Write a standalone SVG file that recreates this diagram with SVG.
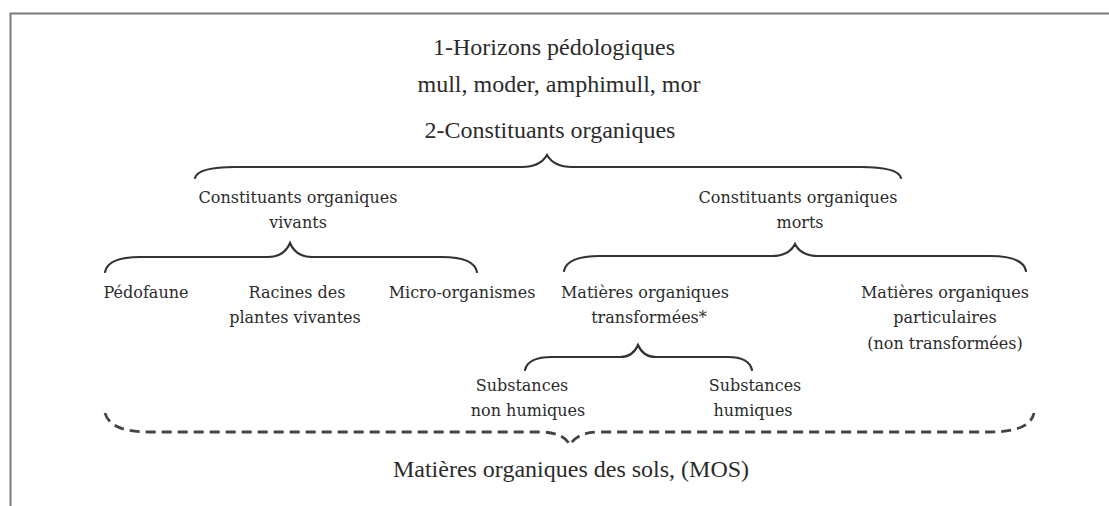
<svg xmlns="http://www.w3.org/2000/svg" width="1109" height="506" viewBox="0 0 1109 506">
<style>
.t1{font-family:"Liberation Serif","Times New Roman",serif;font-size:24px;fill:#2b2b2b;text-anchor:middle}
.t2{font-family:"DejaVu Serif",serif;font-size:16px;fill:#2b2b2b;text-anchor:middle}
.br{fill:none;stroke:#333;stroke-width:2.2;stroke-linecap:round}
.dash{fill:none;stroke:#444;stroke-width:2.8;stroke-dasharray:10 6}
</style>
<rect width="1109" height="506" fill="#fff"/>
<path d="M10.5 506 L10.5 13.5 L1109 13.5" fill="none" stroke="#7a7a7a" stroke-width="2"/>
<g id="connectors">
<path class="br" d="M195 178 Q198 167 235 167 L522 167 Q540 167 547 155 Q554 167 572 167 L861 167 Q898 167 901 178"/>
<path class="br" d="M105 272 Q108 257 140 257 L268 257 Q284 257 290 243 Q296 257 312 257 L442 257 Q474 257 477 272"/>
<path class="br" d="M564 271 Q567 256 600 256 L772 256 Q789 256 795 244 Q801 256 818 256 L990 256 Q1023 256 1026 271"/>
<path class="br" d="M525 370 Q528 357 552 357 L620 357 Q633 357 638 345 Q643 357 656 357 L728 357 Q749 357 752 370"/>
<path class="dash" d="M105 413 Q110 432 150 432 L540 432 Q563 432 570 445 Q577 432 600 432 L990 432 Q1030 432 1034 413"/>
</g>
<g id="horizons"><text class="t1" x="554" y="55">1-Horizons pédologiques</text><text class="t1" x="559" y="92">mull, moder, amphimull, mor</text></g>
<g id="constituants"><text class="t1" x="550" y="138">2-Constituants organiques</text></g>
<g id="vivants"><text class="t2" x="298" y="203">Constituants organiques</text><text class="t2" x="298" y="228">vivants</text></g>
<g id="morts"><text class="t2" x="798" y="203">Constituants organiques</text><text class="t2" x="800" y="228">morts</text></g>
<g id="pedofaune"><text class="t2" x="146" y="298">Pédofaune</text></g>
<g id="racines"><text class="t2" x="297" y="298">Racines des</text><text class="t2" x="295" y="323">plantes vivantes</text></g>
<g id="micro"><text class="t2" x="462" y="298">Micro-organismes</text></g>
<g id="transformees"><text class="t2" x="645" y="298">Matières organiques</text><text class="t2" x="649" y="323">transformées*</text></g>
<g id="particulaires"><text class="t2" x="945" y="298">Matières organiques</text><text class="t2" x="945" y="323">particulaires</text><text class="t2" x="945" y="349">(non transformées)</text></g>
<g id="nonhumiques"><text class="t2" x="522" y="391">Substances</text><text class="t2" x="528" y="416">non humiques</text></g>
<g id="humiques"><text class="t2" x="755" y="391">Substances</text><text class="t2" x="753" y="416">humiques</text></g>
<g id="mos"><text class="t1" x="571" y="477">Matières organiques des sols, (MOS)</text></g>
</svg>
